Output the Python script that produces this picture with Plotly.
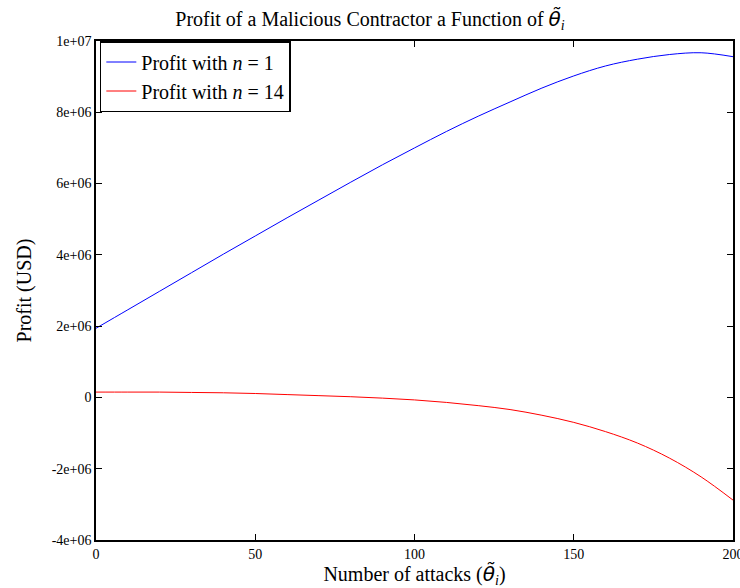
import plotly.graph_objects as go

attacks = [0, 10, 20, 30, 40, 50, 60, 70, 80, 90, 100, 110, 120, 130, 140, 150, 160, 170, 180, 190, 200]
profit_n1 = [1.94, 2.46, 2.98, 3.50, 4.02, 4.53, 5.04, 5.54, 6.04, 6.53, 7.00, 7.46, 7.89, 8.29, 8.68, 9.02, 9.30, 9.49, 9.62, 9.67, 9.56]
profit_n14 = [0.15, 0.15, 0.15, 0.14, 0.13, 0.11, 0.08, 0.05, 0.02, -0.02, -0.07, -0.14, -0.23, -0.34, -0.50, -0.70, -0.96, -1.28, -1.70, -2.23, -2.88]
scale = 1e6
y_ticks = [-4e6, -2e6, 0, 2e6, 4e6, 6e6, 8e6, 1e7]
y_labels = ["-4e+06", "-2e+06", "0", "2e+06", "4e+06", "6e+06", "8e+06", "1e+07"]
x_ticks = [0, 50, 100, 150, 200]

FONT = "Liberation Serif"
THETA = '<span style="font-family:DejaVu Sans"><i>θ̃</i></span><sub><i>i</i></sub>'

fig = go.Figure()
fig.add_trace(go.Scatter(x=attacks, y=[v * scale for v in profit_n1], mode="lines",
                         line=dict(color="#0000ff", width=1, shape="spline", smoothing=1.0),
                         name="Profit with <i>n</i> = 1"))
fig.add_trace(go.Scatter(x=attacks, y=[v * scale for v in profit_n14], mode="lines",
                         line=dict(color="#ff0000", width=1, shape="spline", smoothing=1.0),
                         name="Profit with <i>n</i> = 14"))

axis_common = dict(showgrid=False, zeroline=False, showline=True, linecolor="black",
                   linewidth=1.5, mirror="allticks", ticks="inside", ticklen=6,
                   tickcolor="black", automargin=False, ticklabeloverflow="allow",
                   tickfont=dict(family=FONT, size=14, color="black"))

fig.update_layout(
    width=740, height=588,
    margin=dict(l=96, r=7, t=41, b=48),
    paper_bgcolor="white", plot_bgcolor="white",
    font=dict(family=FONT, color="black"),
    title=dict(text="Profit of a Malicious Contractor a Function of " + THETA,
               x=0.5, xanchor="center", y=0.968, yanchor="middle",
               font=dict(family=FONT, size=20, color="black")),
    xaxis=dict(range=[0, 200], tickvals=x_ticks,
               title=dict(text="Number of attacks (" + THETA + ")",
                          font=dict(family=FONT, size=20)),
               **axis_common),
    yaxis=dict(range=[-4e6, 1e7], tickvals=y_ticks, ticktext=y_labels,
               title=dict(text="Profit (USD)", font=dict(family=FONT, size=20)),
               **axis_common),
    legend=dict(x=0.006, y=1.0, xanchor="left", yanchor="top",
                bordercolor="black", borderwidth=1.5, bgcolor="white",
                font=dict(family=FONT, size=20), tracegroupgap=0,
                itemwidth=30),
    showlegend=True,
)

fig.write_html("out.html")
